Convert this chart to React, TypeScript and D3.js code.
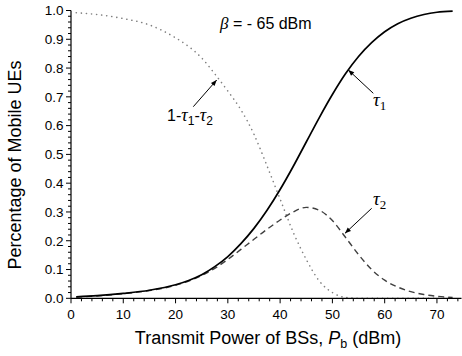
import React from 'react';
import * as d3 from 'd3';

const xValues = [1, 5, 10, 15, 20, 22.5, 25, 27.5, 30, 32.5, 35, 37.5, 40, 42.5, 45, 47.5, 50, 52.5, 55, 57.5, 60, 62.5, 65, 67.5, 70, 73];
const tau1 = [0.005, 0.009, 0.017, 0.028, 0.047, 0.062, 0.082, 0.11, 0.145, 0.19, 0.243, 0.306, 0.378, 0.458, 0.543, 0.628, 0.708, 0.78, 0.84, 0.888, 0.926, 0.954, 0.973, 0.986, 0.994, 0.998];
const tau2 = [0.004, 0.008, 0.016, 0.027, 0.045, 0.06, 0.079, 0.104, 0.135, 0.17, 0.205, 0.24, 0.272, 0.3, 0.316, 0.306, 0.27, 0.212, 0.152, 0.1, 0.063, 0.039, 0.023, 0.013, 0.007, 0.003];
const rest = [0.992, 0.986, 0.972, 0.95, 0.905, 0.875, 0.835, 0.78, 0.72, 0.655, 0.57, 0.46, 0.345, 0.23, 0.135, 0.06, 0.02, 0.003, 0, 0, 0, 0, 0, 0, 0, 0];

const xMajor = [0, 10, 20, 30, 40, 50, 60, 70];
const yMajor = [0, 0.1, 0.2, 0.3, 0.4, 0.5, 0.6, 0.7, 0.8, 0.9, 1.0];

const W = 462, H = 356;
const sans = '"Liberation Sans", Arial, sans-serif';
const serif = '"Liberation Serif", "Times New Roman", serif';

export default function App() {
  const x = d3.scaleLinear().domain([0, 74.6]).range([71, 461]);
  const y = d3.scaleLinear().domain([0, 1]).range([298.3, 10.5]);

  const mk = (vals: number[]) =>
    d3.line<number>().x((_, i) => x(xValues[i])).y((d) => y(d)).curve(d3.curveMonotoneX)(vals) || '';

  const xMinor = d3.range(0, 74.6, 2);
  const yMinor = d3.range(0, 1.0001, 0.02);

  return (
    <svg width={W} height={H} style={{ position: 'absolute', left: 0, top: 0, background: '#fff' }}>
      <defs>
        <marker id="ah" viewBox="0 0 10 10" refX="10" refY="5" markerWidth="7" markerHeight="6" orient="auto" markerUnits="userSpaceOnUse">
          <path d="M0,1 L10,5 L0,9 z" fill="#000" />
        </marker>
      </defs>
      {/* curves */}
      <path d={mk(rest)} fill="none" stroke="#808080" strokeWidth={1.6} strokeDasharray="0.1,5" strokeLinecap="round" />
      <path d={mk(tau2)} fill="none" stroke="#404040" strokeWidth={1.4} strokeDasharray="6,4" />
      <path d={mk(tau1)} fill="none" stroke="#000" strokeWidth={1.7} />

      {/* axes */}
      <line x1={x(0)} x2={x(0)} y1={y(0)} y2={y(1)} stroke="#000" strokeWidth={1.2} />
      <line x1={x(0)} x2={461.5} y1={y(0)} y2={y(0)} stroke="#000" strokeWidth={1.2} />
      {xMinor.map((t) => (
        <line key={'xm' + t} x1={x(t)} x2={x(t)} y1={y(0)} y2={y(0) + (t % 10 === 0 ? 5 : 3)} stroke="#000" strokeWidth={1} />
      ))}
      {yMinor.map((t, i) => (
        <line key={'ym' + i} x1={x(0)} x2={x(0) - (i % 5 === 0 ? 5 : 3)} y1={y(t)} y2={y(t)} stroke="#000" strokeWidth={1} />
      ))}
      {xMajor.map((t) => (
        <text key={'xl' + t} x={x(t)} y={319.3} textAnchor="middle" fontFamily={sans} fontSize={13.5}>{t}</text>
      ))}
      {yMajor.map((t) => (
        <text key={'yl' + t} x={63.5} y={y(t) + 4.8} textAnchor="end" fontFamily={sans} fontSize={13.5}>{t.toFixed(1)}</text>
      ))}

      {/* axis titles */}
      <text x={268} y={344.3} textAnchor="middle" fontFamily={sans} fontSize={18}>
        Transmit Power of BSs, <tspan fontStyle="italic">P</tspan><tspan fontSize={12.5} dy={4}>b</tspan><tspan dy={-4}> (dBm)</tspan>
      </text>
      <text transform="translate(20.5,165) rotate(-90)" textAnchor="middle" fontFamily={sans} fontSize={18}>
        Percentage of Mobile UEs
      </text>

      {/* annotations */}
      <text x={220} y={29.3} fontFamily={sans} fontSize={16}>
        <tspan fontFamily={serif} fontStyle="italic" fontSize={17}>β</tspan> = - 65 dBm
      </text>

      <text x={167} y={120.7} fontFamily={sans} fontSize={16}>
        1-<tspan fontFamily={serif} fontStyle="italic" fontSize={18}>τ</tspan><tspan fontSize={12} dy={4}>1</tspan><tspan dy={-4}>-</tspan><tspan fontFamily={serif} fontStyle="italic" fontSize={18}>τ</tspan><tspan fontSize={12} dy={4}>2</tspan>
      </text>
      <line x1={193.3} y1={106.7} x2={216.7} y2={80} stroke="#000" strokeWidth={1} markerEnd="url(#ah)" />

      <text x={373} y={106} fontFamily={serif} fontSize={19}>
        <tspan fontStyle="italic">τ</tspan><tspan fontSize={13} dy={4}>1</tspan>
      </text>
      <line x1={373.3} y1={93.3} x2={348.3} y2={70} stroke="#000" strokeWidth={1} markerEnd="url(#ah)" />

      <text x={373} y={205} fontFamily={serif} fontSize={19}>
        <tspan fontStyle="italic">τ</tspan><tspan fontSize={13} dy={4}>2</tspan>
      </text>
      <line x1={371.7} y1={208.3} x2={345} y2={233.3} stroke="#000" strokeWidth={1} markerEnd="url(#ah)" />
    </svg>
  );
}
